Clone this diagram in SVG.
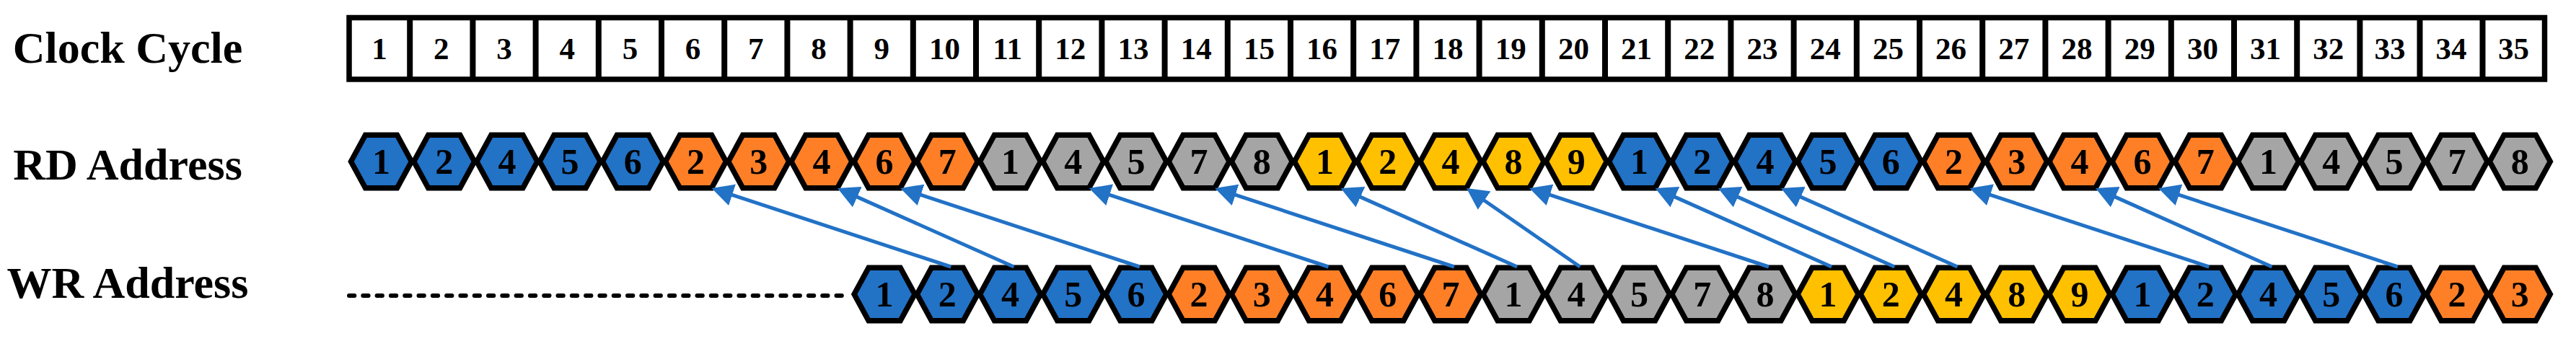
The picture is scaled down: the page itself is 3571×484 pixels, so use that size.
<svg xmlns="http://www.w3.org/2000/svg" xmlns:xlink="http://www.w3.org/1999/xlink" width="3571" height="484" viewBox="0 0 3571 484">
<style>
text{font-family:"Liberation Serif","Times New Roman",serif;font-weight:bold;fill:#000;text-anchor:middle}
.lbl{font-size:62px}
.cc{font-size:43px}
.hn{font-size:50px}
.hx{stroke:#000;stroke-width:7.5;stroke-linejoin:miter}
.b{fill:#2272C6}.o{fill:#FF7F27}.g{fill:#A5A5A5}.y{fill:#FFC000}
.arr{stroke:#2272C6;stroke-width:5;fill:none;marker-end:url(#ah)}
</style>
<defs>
<polygon id="hex" points="-42,0 -22,-36.75 22,-36.75 42,0 22,36.75 -22,36.75"/>
<marker id="ah" markerUnits="userSpaceOnUse" viewBox="0 0 30 31" markerWidth="30" markerHeight="31" refX="18" refY="15.5" orient="auto"><path d="M0,0 L30,15.5 L0,31 Z" fill="#2272C6"/></marker>
</defs>
<rect width="3571" height="484" fill="#fff"/>
<g id="labels">
<text class="lbl" x="177" y="87">Clock Cycle</text>
<text class="lbl" x="177" y="249">RD Address</text>
<text class="lbl" x="177" y="413">WR Address</text>
</g>
<g id="clock-cycle">
<rect x="484" y="24.5" width="3043.5" height="85.5" fill="#fff" stroke="#000" stroke-width="7.5"/>
<path stroke="#000" stroke-width="8" fill="none" d="M568.2,24.5V110M655.4,24.5V110M742.6,24.5V110M829.8,24.5V110M917,24.5V110M1004.2,24.5V110M1091.4,24.5V110M1178.6,24.5V110M1265.8,24.5V110M1353,24.5V110M1440.2,24.5V110M1527.4,24.5V110M1614.6,24.5V110M1701.8,24.5V110M1789,24.5V110M1876.2,24.5V110M1963.4,24.5V110M2050.6,24.5V110M2137.8,24.5V110M2225,24.5V110M2312.2,24.5V110M2399.4,24.5V110M2486.6,24.5V110M2573.8,24.5V110M2661,24.5V110M2748.2,24.5V110M2835.4,24.5V110M2922.6,24.5V110M3009.8,24.5V110M3097,24.5V110M3184.2,24.5V110M3271.4,24.5V110M3354.5,24.5V110M3441.5,24.5V110"/>
<text class="cc" x="526.1" y="82">1</text>
<text class="cc" x="611.8" y="82">2</text>
<text class="cc" x="699" y="82">3</text>
<text class="cc" x="786.2" y="82">4</text>
<text class="cc" x="873.4" y="82">5</text>
<text class="cc" x="960.6" y="82">6</text>
<text class="cc" x="1047.8" y="82">7</text>
<text class="cc" x="1135" y="82">8</text>
<text class="cc" x="1222.2" y="82">9</text>
<text class="cc" x="1309.4" y="82">10</text>
<text class="cc" x="1396.6" y="82">11</text>
<text class="cc" x="1483.8" y="82">12</text>
<text class="cc" x="1571" y="82">13</text>
<text class="cc" x="1658.2" y="82">14</text>
<text class="cc" x="1745.4" y="82">15</text>
<text class="cc" x="1832.6" y="82">16</text>
<text class="cc" x="1919.8" y="82">17</text>
<text class="cc" x="2007" y="82">18</text>
<text class="cc" x="2094.2" y="82">19</text>
<text class="cc" x="2181.4" y="82">20</text>
<text class="cc" x="2268.6" y="82">21</text>
<text class="cc" x="2355.8" y="82">22</text>
<text class="cc" x="2443" y="82">23</text>
<text class="cc" x="2530.2" y="82">24</text>
<text class="cc" x="2617.4" y="82">25</text>
<text class="cc" x="2704.6" y="82">26</text>
<text class="cc" x="2791.8" y="82">27</text>
<text class="cc" x="2879" y="82">28</text>
<text class="cc" x="2966.2" y="82">29</text>
<text class="cc" x="3053.4" y="82">30</text>
<text class="cc" x="3140.6" y="82">31</text>
<text class="cc" x="3227.8" y="82">32</text>
<text class="cc" x="3313" y="82">33</text>
<text class="cc" x="3398" y="82">34</text>
<text class="cc" x="3484.5" y="82">35</text>
</g>
<g id="rd-row">
<g id="rd-1" transform="translate(528.5,224)"><use xlink:href="#hex" class="hx b"/><text class="hn" y="17">1</text></g>
<g id="rd-2" transform="translate(615.7,224)"><use xlink:href="#hex" class="hx b"/><text class="hn" y="17">2</text></g>
<g id="rd-3" transform="translate(702.9,224)"><use xlink:href="#hex" class="hx b"/><text class="hn" y="17">4</text></g>
<g id="rd-4" transform="translate(790.1,224)"><use xlink:href="#hex" class="hx b"/><text class="hn" y="17">5</text></g>
<g id="rd-5" transform="translate(877.3,224)"><use xlink:href="#hex" class="hx b"/><text class="hn" y="17">6</text></g>
<g id="rd-6" transform="translate(964.5,224)"><use xlink:href="#hex" class="hx o"/><text class="hn" y="17">2</text></g>
<g id="rd-7" transform="translate(1051.7,224)"><use xlink:href="#hex" class="hx o"/><text class="hn" y="17">3</text></g>
<g id="rd-8" transform="translate(1138.9,224)"><use xlink:href="#hex" class="hx o"/><text class="hn" y="17">4</text></g>
<g id="rd-9" transform="translate(1226.1,224)"><use xlink:href="#hex" class="hx o"/><text class="hn" y="17">6</text></g>
<g id="rd-10" transform="translate(1313.3,224)"><use xlink:href="#hex" class="hx o"/><text class="hn" y="17">7</text></g>
<g id="rd-11" transform="translate(1400.5,224)"><use xlink:href="#hex" class="hx g"/><text class="hn" y="17">1</text></g>
<g id="rd-12" transform="translate(1487.7,224)"><use xlink:href="#hex" class="hx g"/><text class="hn" y="17">4</text></g>
<g id="rd-13" transform="translate(1574.9,224)"><use xlink:href="#hex" class="hx g"/><text class="hn" y="17">5</text></g>
<g id="rd-14" transform="translate(1662.1,224)"><use xlink:href="#hex" class="hx g"/><text class="hn" y="17">7</text></g>
<g id="rd-15" transform="translate(1749.3,224)"><use xlink:href="#hex" class="hx g"/><text class="hn" y="17">8</text></g>
<g id="rd-16" transform="translate(1836.5,224)"><use xlink:href="#hex" class="hx y"/><text class="hn" y="17">1</text></g>
<g id="rd-17" transform="translate(1923.7,224)"><use xlink:href="#hex" class="hx y"/><text class="hn" y="17">2</text></g>
<g id="rd-18" transform="translate(2010.9,224)"><use xlink:href="#hex" class="hx y"/><text class="hn" y="17">4</text></g>
<g id="rd-19" transform="translate(2098.1,224)"><use xlink:href="#hex" class="hx y"/><text class="hn" y="17">8</text></g>
<g id="rd-20" transform="translate(2185.3,224)"><use xlink:href="#hex" class="hx y"/><text class="hn" y="17">9</text></g>
<g id="rd-21" transform="translate(2272.5,224)"><use xlink:href="#hex" class="hx b"/><text class="hn" y="17">1</text></g>
<g id="rd-22" transform="translate(2359.7,224)"><use xlink:href="#hex" class="hx b"/><text class="hn" y="17">2</text></g>
<g id="rd-23" transform="translate(2446.9,224)"><use xlink:href="#hex" class="hx b"/><text class="hn" y="17">4</text></g>
<g id="rd-24" transform="translate(2534.1,224)"><use xlink:href="#hex" class="hx b"/><text class="hn" y="17">5</text></g>
<g id="rd-25" transform="translate(2621.3,224)"><use xlink:href="#hex" class="hx b"/><text class="hn" y="17">6</text></g>
<g id="rd-26" transform="translate(2708.5,224)"><use xlink:href="#hex" class="hx o"/><text class="hn" y="17">2</text></g>
<g id="rd-27" transform="translate(2795.7,224)"><use xlink:href="#hex" class="hx o"/><text class="hn" y="17">3</text></g>
<g id="rd-28" transform="translate(2882.9,224)"><use xlink:href="#hex" class="hx o"/><text class="hn" y="17">4</text></g>
<g id="rd-29" transform="translate(2970.1,224)"><use xlink:href="#hex" class="hx o"/><text class="hn" y="17">6</text></g>
<g id="rd-30" transform="translate(3057.3,224)"><use xlink:href="#hex" class="hx o"/><text class="hn" y="17">7</text></g>
<g id="rd-31" transform="translate(3144.5,224)"><use xlink:href="#hex" class="hx g"/><text class="hn" y="17">1</text></g>
<g id="rd-32" transform="translate(3231.7,224)"><use xlink:href="#hex" class="hx g"/><text class="hn" y="17">4</text></g>
<g id="rd-33" transform="translate(3318.9,224)"><use xlink:href="#hex" class="hx g"/><text class="hn" y="17">5</text></g>
<g id="rd-34" transform="translate(3406.1,224)"><use xlink:href="#hex" class="hx g"/><text class="hn" y="17">7</text></g>
<g id="rd-35" transform="translate(3493.3,224)"><use xlink:href="#hex" class="hx g"/><text class="hn" y="17">8</text></g>
</g>
<g id="wr-row">
<line id="wr-idle" x1="484" y1="410" x2="1178" y2="410" stroke="#000" stroke-width="6" stroke-dasharray="7.3 12" stroke-linecap="round"/>
<g id="wr-9" transform="translate(1226.1,408)"><use xlink:href="#hex" class="hx b"/><text class="hn" y="17">1</text></g>
<g id="wr-10" transform="translate(1313.3,408)"><use xlink:href="#hex" class="hx b"/><text class="hn" y="17">2</text></g>
<g id="wr-11" transform="translate(1400.5,408)"><use xlink:href="#hex" class="hx b"/><text class="hn" y="17">4</text></g>
<g id="wr-12" transform="translate(1487.7,408)"><use xlink:href="#hex" class="hx b"/><text class="hn" y="17">5</text></g>
<g id="wr-13" transform="translate(1574.9,408)"><use xlink:href="#hex" class="hx b"/><text class="hn" y="17">6</text></g>
<g id="wr-14" transform="translate(1662.1,408)"><use xlink:href="#hex" class="hx o"/><text class="hn" y="17">2</text></g>
<g id="wr-15" transform="translate(1749.3,408)"><use xlink:href="#hex" class="hx o"/><text class="hn" y="17">3</text></g>
<g id="wr-16" transform="translate(1836.5,408)"><use xlink:href="#hex" class="hx o"/><text class="hn" y="17">4</text></g>
<g id="wr-17" transform="translate(1923.7,408)"><use xlink:href="#hex" class="hx o"/><text class="hn" y="17">6</text></g>
<g id="wr-18" transform="translate(2010.9,408)"><use xlink:href="#hex" class="hx o"/><text class="hn" y="17">7</text></g>
<g id="wr-19" transform="translate(2098.1,408)"><use xlink:href="#hex" class="hx g"/><text class="hn" y="17">1</text></g>
<g id="wr-20" transform="translate(2185.3,408)"><use xlink:href="#hex" class="hx g"/><text class="hn" y="17">4</text></g>
<g id="wr-21" transform="translate(2272.5,408)"><use xlink:href="#hex" class="hx g"/><text class="hn" y="17">5</text></g>
<g id="wr-22" transform="translate(2359.7,408)"><use xlink:href="#hex" class="hx g"/><text class="hn" y="17">7</text></g>
<g id="wr-23" transform="translate(2446.9,408)"><use xlink:href="#hex" class="hx g"/><text class="hn" y="17">8</text></g>
<g id="wr-24" transform="translate(2534.1,408)"><use xlink:href="#hex" class="hx y"/><text class="hn" y="17">1</text></g>
<g id="wr-25" transform="translate(2621.3,408)"><use xlink:href="#hex" class="hx y"/><text class="hn" y="17">2</text></g>
<g id="wr-26" transform="translate(2708.5,408)"><use xlink:href="#hex" class="hx y"/><text class="hn" y="17">4</text></g>
<g id="wr-27" transform="translate(2795.7,408)"><use xlink:href="#hex" class="hx y"/><text class="hn" y="17">8</text></g>
<g id="wr-28" transform="translate(2882.9,408)"><use xlink:href="#hex" class="hx y"/><text class="hn" y="17">9</text></g>
<g id="wr-29" transform="translate(2970.1,408)"><use xlink:href="#hex" class="hx b"/><text class="hn" y="17">1</text></g>
<g id="wr-30" transform="translate(3057.3,408)"><use xlink:href="#hex" class="hx b"/><text class="hn" y="17">2</text></g>
<g id="wr-31" transform="translate(3144.5,408)"><use xlink:href="#hex" class="hx b"/><text class="hn" y="17">4</text></g>
<g id="wr-32" transform="translate(3231.7,408)"><use xlink:href="#hex" class="hx b"/><text class="hn" y="17">5</text></g>
<g id="wr-33" transform="translate(3318.9,408)"><use xlink:href="#hex" class="hx b"/><text class="hn" y="17">6</text></g>
<g id="wr-34" transform="translate(3406.1,408)"><use xlink:href="#hex" class="hx o"/><text class="hn" y="17">2</text></g>
<g id="wr-35" transform="translate(3493.3,408)"><use xlink:href="#hex" class="hx o"/><text class="hn" y="17">3</text></g>
</g>
<g id="connectors">
<line class="arr" x1="1318.3" y1="370" x2="997.9" y2="264.7"/>
<line class="arr" x1="1405.5" y1="370" x2="1171.9" y2="265.9"/>
<line class="arr" x1="1579.9" y1="370" x2="1259.5" y2="264.7"/>
<line class="arr" x1="1841.5" y1="370" x2="1521.1" y2="264.7"/>
<line class="arr" x1="2015.9" y1="370" x2="1695.5" y2="264.7"/>
<line class="arr" x1="2103.1" y1="370" x2="1869.5" y2="265.9"/>
<line class="arr" x1="2190.3" y1="370" x2="2042.8" y2="267.8"/>
<line class="arr" x1="2451.9" y1="370" x2="2131.5" y2="264.7"/>
<line class="arr" x1="2539.1" y1="370" x2="2305.5" y2="265.9"/>
<line class="arr" x1="2626.3" y1="370" x2="2392.7" y2="265.9"/>
<line class="arr" x1="2713.5" y1="370" x2="2479.9" y2="265.9"/>
<line class="arr" x1="3062.3" y1="370" x2="2741.9" y2="264.7"/>
<line class="arr" x1="3149.5" y1="370" x2="2915.9" y2="265.9"/>
<line class="arr" x1="3323.9" y1="370" x2="3003.5" y2="264.7"/>
</g>
</svg>
